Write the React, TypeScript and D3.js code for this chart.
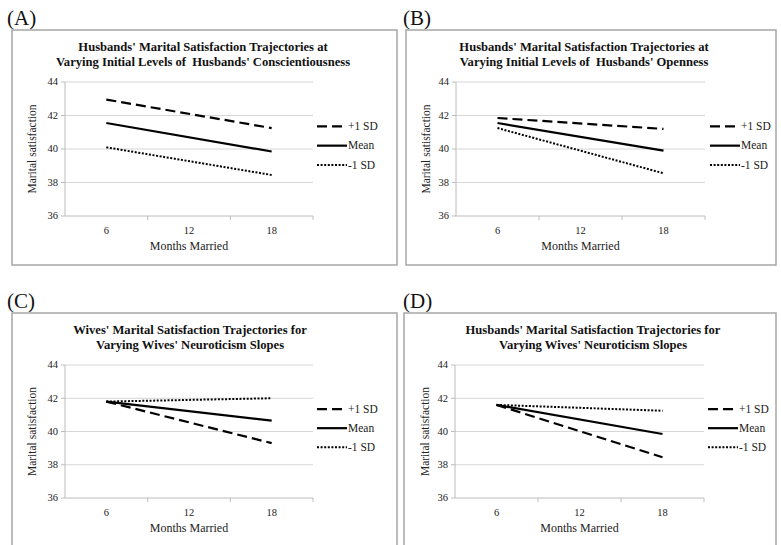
import React from "react";
import * as d3 from "d3";

// months on the x axis, and the two points each line is drawn through
const months = ["6", "12", "18"];
const lineMonths = ["6", "18"];
const yTicks = [36, 38, 40, 42, 44];
const seriesNames = ["+1 SD", "Mean", "-1 SD"];

const panelLabels = ["(A)", "(B)", "(C)", "(D)"];
const titlesA = ["Husbands' Marital Satisfaction Trajectories at", "Varying Initial Levels of  Husbands' Conscientiousness"];
const titlesB = ["Husbands' Marital Satisfaction Trajectories at", "Varying Initial Levels of  Husbands' Openness"];
const titlesC = ["Wives' Marital Satisfaction Trajectories for", "Varying Wives' Neuroticism Slopes"];
const titlesD = ["Husbands' Marital Satisfaction Trajectories for", "Varying Wives' Neuroticism Slopes"];

// values at 6 and 18 months: +1 SD, Mean, -1 SD
const valuesA = [[42.95, 41.25], [41.55, 39.85], [40.1, 38.45]];
const valuesB = [[41.85, 41.2], [41.55, 39.9], [41.25, 38.55]];
const valuesC = [[41.8, 39.3], [41.8, 40.65], [41.8, 42.0]];
const valuesD = [[41.6, 38.45], [41.6, 39.85], [41.6, 41.25]];

const dashes = ["10,5", null, "2,1.6"];
const widths = [2.2, 2.2, 2];
const FONT = "'Liberation Serif', 'Times New Roman', serif";

type Geo = {
  bx: number; by: number; bw: number; bh: number;
  left: number; right: number; top: number; bottom: number;
  legendX: number; titleCx: number; yTitleX: number; labelX: number;
};

function Panel({ g, label, titles, values }: { g: Geo; label: string; titles: string[]; values: number[][] }) {
  const x = d3.scaleBand().domain(months).range([g.left, g.right]);
  const y = d3.scaleLinear().domain([36, 44]).range([g.bottom, g.top]);
  const line = d3.line<number>()
    .x((_, i) => (x(lineMonths[i]) as number) + x.bandwidth() / 2)
    .y(d => y(d));
  const legendY = d3.scalePoint().domain(seriesNames).range([y(41.35), y(39.05)]);

  return (
    <g>
      <text x={g.labelX} y={g.by - 5} fontSize={21} fontFamily={FONT} fill="#111">{label}</text>
      <rect x={g.bx} y={g.by} width={g.bw} height={g.bh} fill="#fff" stroke="#a6a6a6" strokeWidth={1.5} />
      {titles.map((t, i) => (
        <text key={i} x={g.titleCx} y={g.by + 21 + i * 15} textAnchor="middle" fontSize={12.6}
          fontWeight="bold" fontFamily={FONT} fill="#111" style={{ whiteSpace: "pre" }}>{t}</text>
      ))}
      {yTicks.map(t => (
        <g key={t}>
          <line x1={g.left} x2={g.right} y1={y(t)} y2={y(t)}
            stroke={t === 36 ? "#bcbcbc" : "#d6d6d6"} strokeWidth={1} />
          <line x1={g.left - 4} x2={g.left} y1={y(t)} y2={y(t)} stroke="#bcbcbc" />
          <text x={g.left - 7} y={y(t)} dy="0.33em" textAnchor="end" fontSize={10.5} fontFamily={FONT} fill="#222">{t}</text>
        </g>
      ))}
      <line x1={g.left} x2={g.left} y1={g.top} y2={g.bottom} stroke="#bcbcbc" />
      {months.map(m => (
        <g key={m}>
          <line x1={(x(m) as number) + x.bandwidth()} x2={(x(m) as number) + x.bandwidth()}
            y1={g.bottom} y2={g.bottom + 4} stroke="#bcbcbc" />
          <text x={(x(m) as number) + x.bandwidth() / 2} y={g.bottom + 18} textAnchor="middle"
            fontSize={10.5} fontFamily={FONT} fill="#222">{m}</text>
        </g>
      ))}
      <text x={(g.left + g.right) / 2} y={g.bottom + 34} textAnchor="middle" fontSize={12} fontFamily={FONT} fill="#222">Months Married</text>
      <text transform={`translate(${g.yTitleX},${(g.top + g.bottom) / 2}) rotate(-90)`} textAnchor="middle"
        fontSize={11.5} fontFamily={FONT} fill="#222">Marital satisfaction</text>
      {values.map((v, i) => (
        <path key={i} d={line(v) as string} fill="none" stroke="#000" strokeWidth={widths[i]}
          strokeDasharray={dashes[i] ?? undefined} />
      ))}
      {seriesNames.map((s, i) => (
        <g key={s}>
          <line x1={g.legendX} x2={g.legendX + 30} y1={legendY(s)} y2={legendY(s)} stroke="#000"
            strokeWidth={widths[i]} strokeDasharray={dashes[i] ?? undefined} />
          <text x={g.legendX + 31} y={legendY(s)} dy="0.33em" fontSize={11.5} fontFamily={FONT} fill="#222">{s}</text>
        </g>
      ))}
    </g>
  );
}

const geoA: Geo = { bx: 12, by: 30, bw: 385, bh: 235, left: 65, right: 313, top: 82, bottom: 216, legendX: 317, titleCx: 203, yTitleX: 36, labelX: 7 };
const geoB: Geo = { bx: 406, by: 30, bw: 370, bh: 235, left: 456, right: 705, top: 82, bottom: 216, legendX: 710, titleCx: 584, yTitleX: 430, labelX: 403 };
const geoC: Geo = { ...geoA, by: 313, top: 365, bottom: 498, titleCx: 190 };
const geoD: Geo = { bx: 404, by: 313, bw: 372, bh: 235, left: 455, right: 704, top: 365, bottom: 498, legendX: 708, titleCx: 593, yTitleX: 429, labelX: 403 };

export default function App() {
  return (
    <svg width={781} height={545} style={{ position: "absolute", left: 0, top: 0, background: "#fff" }}>
      <Panel g={geoA} label={panelLabels[0]} titles={titlesA} values={valuesA} />
      <Panel g={geoB} label={panelLabels[1]} titles={titlesB} values={valuesB} />
      <Panel g={geoC} label={panelLabels[2]} titles={titlesC} values={valuesC} />
      <Panel g={geoD} label={panelLabels[3]} titles={titlesD} values={valuesD} />
    </svg>
  );
}
